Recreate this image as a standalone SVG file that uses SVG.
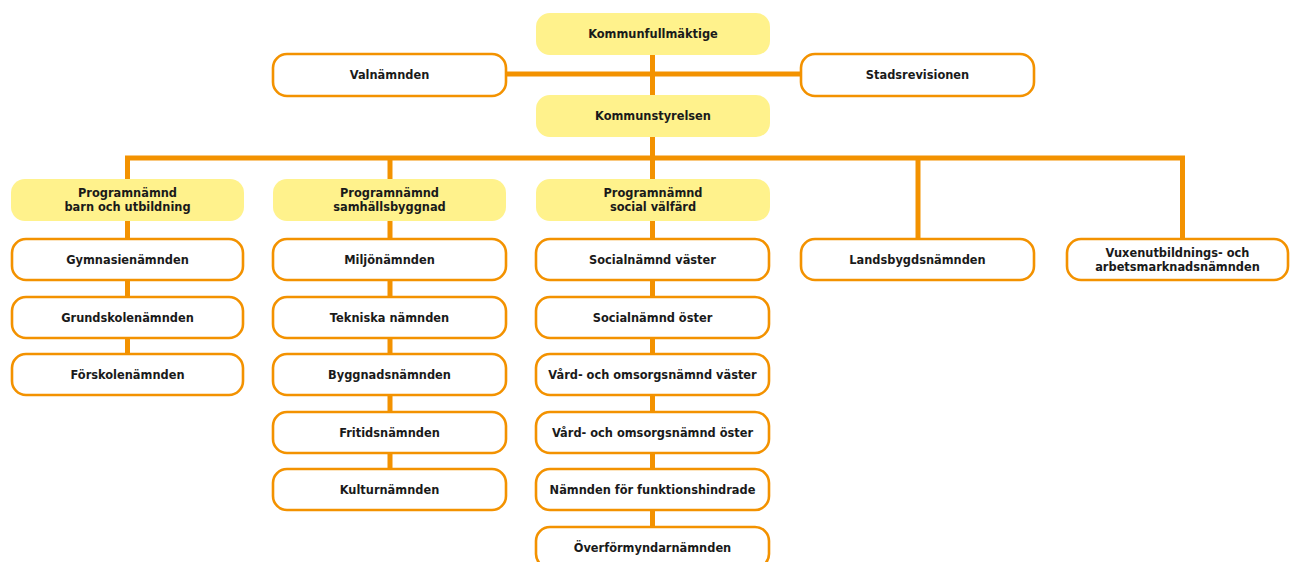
<svg xmlns="http://www.w3.org/2000/svg" width="1290" height="562" viewBox="0 0 1290 562">
<style>
.ln{stroke:#F39200;stroke-width:5;fill:none}
.bx{fill:#ffffff;stroke:#F39200;stroke-width:2.6}
.hd{fill:#FFF28C;stroke:none}
text{font-family:"DejaVu Sans","Noto Sans","Liberation Sans",sans-serif;font-weight:700;font-size:11.4px;fill:#1a1a1a;text-anchor:middle}
</style>
<rect width="1290" height="562" fill="#ffffff"/>
<g id="connectors">
<line class="ln" x1="652.5" y1="55" x2="652.5" y2="95"/>
<line class="ln" x1="506" y1="74" x2="801" y2="74"/>
<line class="ln" x1="652.5" y1="137" x2="652.5" y2="158"/>
<polyline class="ln" points="127.5,179 127.5,158 1182.5,158 1182.5,239"/>
<line class="ln" x1="390" y1="158" x2="390" y2="179"/>
<line class="ln" x1="652.5" y1="158" x2="652.5" y2="179"/>
<line class="ln" x1="918" y1="158" x2="918" y2="239"/>
<line class="ln" x1="127.5" y1="221" x2="127.5" y2="354"/>
<line class="ln" x1="390" y1="221" x2="390" y2="469"/>
<line class="ln" x1="652.5" y1="221" x2="652.5" y2="527"/>
</g>
<g id="kf"><rect class="hd" x="536" y="13" width="234" height="42" rx="14"/><text x="653" y="38">Kommunfullmäktige</text></g>
<g id="valn"><rect class="bx" x="273" y="54" width="233" height="42" rx="14"/><text x="389.5" y="79">Valnämnden</text></g>
<g id="stadsrev"><rect class="bx" x="801" y="54" width="233" height="42" rx="14"/><text x="917.5" y="79">Stadsrevisionen</text></g>
<g id="ks"><rect class="hd" x="536" y="95" width="234" height="42" rx="14"/><text x="653" y="120">Kommunstyrelsen</text></g>

<g id="pn-barn"><rect class="hd" x="11" y="179" width="233" height="42" rx="14"/><text x="127.5" y="196.5">Programnämnd</text><text x="127.5" y="211">barn och utbildning</text></g>
<g id="pn-samh"><rect class="hd" x="273" y="179" width="233" height="42" rx="14"/><text x="389.5" y="196.5">Programnämnd</text><text x="389.5" y="211">samhällsbyggnad</text></g>
<g id="pn-soc"><rect class="hd" x="536" y="179" width="234" height="42" rx="14"/><text x="653" y="196.5">Programnämnd</text><text x="653" y="211">social välfärd</text></g>

<g id="gymn"><rect class="bx" x="12" y="239" width="231" height="41" rx="14"/><text x="127.5" y="263.5">Gymnasienämnden</text></g>
<g id="grund"><rect class="bx" x="12" y="297" width="231" height="41" rx="14"/><text x="127.5" y="321.5">Grundskolenämnden</text></g>
<g id="forsk"><rect class="bx" x="12" y="354" width="231" height="41" rx="14"/><text x="127.5" y="378.5">Förskolenämnden</text></g>

<g id="miljo"><rect class="bx" x="273" y="239" width="233" height="41" rx="14"/><text x="389.5" y="263.5">Miljönämnden</text></g>
<g id="tekn"><rect class="bx" x="273" y="297" width="233" height="41" rx="14"/><text x="389.5" y="321.5">Tekniska nämnden</text></g>
<g id="byggn"><rect class="bx" x="273" y="354" width="233" height="41" rx="14"/><text x="389.5" y="378.5">Byggnadsnämnden</text></g>
<g id="fritid"><rect class="bx" x="273" y="412" width="233" height="41" rx="14"/><text x="389.5" y="436.5">Fritidsnämnden</text></g>
<g id="kultur"><rect class="bx" x="273" y="469" width="233" height="41" rx="14"/><text x="389.5" y="493.5">Kulturnämnden</text></g>

<g id="socv"><rect class="bx" x="536" y="239" width="233" height="41" rx="14"/><text x="652.5" y="263.5">Socialnämnd väster</text></g>
<g id="soco"><rect class="bx" x="536" y="297" width="233" height="41" rx="14"/><text x="652.5" y="321.5">Socialnämnd öster</text></g>
<g id="vov"><rect class="bx" x="536" y="354" width="233" height="41" rx="14"/><text x="652.5" y="378.5">Vård- och omsorgsnämnd väster</text></g>
<g id="voo"><rect class="bx" x="536" y="412" width="233" height="41" rx="14"/><text x="652.5" y="436.5">Vård- och omsorgsnämnd öster</text></g>
<g id="funk"><rect class="bx" x="536" y="469" width="233" height="41" rx="14"/><text x="652.5" y="493.5">Nämnden för funktionshindrade</text></g>
<g id="overf"><rect class="bx" x="536" y="527" width="233" height="41" rx="14"/><text x="652.5" y="551.5">Överförmyndarnämnden</text></g>

<g id="lands"><rect class="bx" x="801" y="239" width="233" height="41" rx="14"/><text x="917.5" y="263.5">Landsbygdsnämnden</text></g>
<g id="vux"><rect class="bx" x="1067" y="239" width="221" height="41" rx="14"/><text x="1177.5" y="256.5">Vuxenutbildnings- och</text><text x="1177.5" y="271">arbetsmarknadsnämnden</text></g>
</svg>
